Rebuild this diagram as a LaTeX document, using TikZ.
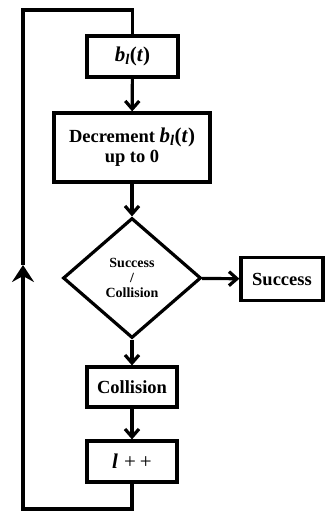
\documentclass[tikz,border=0pt]{standalone}
\usepackage{amsmath,amssymb}
\usepackage{fontspec}
\setmainfont{Liberation Serif}
\usetikzlibrary{arrows.meta,positioning,shapes.geometric}
\newcommand{\blt}{\textit{b}\textsubscript{\textit{l}}(\textit{t})}

\begin{document}
\begin{tikzpicture}[x=1pt,y=-1pt,
    stepbox/.style={draw, line width=3.2pt, inner sep=0pt, align=center,
      font=\fontsize{18.5}{20}\selectfont\bfseries},
    decision/.style={draw, diamond, line width=3.2pt, inner sep=0pt, align=center,
      font=\fontsize{14}{15}\selectfont\bfseries},
    flow/.style={line width=3.2pt, -{Straight Barb[length=8pt,width=14pt,line width=3.2pt]}},
    loopline/.style={line width=3.2pt}]
    \useasboundingbox (0,0) rectangle (324,514);
    % boxes of the chain
    \node[stepbox, minimum width=91pt, minimum height=41pt] (blt) at (132.5,56.5)
      {{\fontsize{21}{21}\selectfont\blt}};
    \node[stepbox, minimum width=156pt, minimum height=69pt] (dec) at (132,147.5)
      {Decrement {\fontsize{21}{21}\selectfont\blt}\\up to 0};
    \node[decision, minimum width=138pt, minimum height=120pt] (sc) at (132,278)
      {Success\\/\\Collision};
    \node[stepbox, minimum width=82pt, minimum height=43pt] (succ) at (282,279)
      {Success};
    \node[stepbox, minimum width=90pt, minimum height=40pt] (coll) at (132,387)
      {Collision};
    \node[stepbox, minimum width=90pt, minimum height=41pt] (linc) at (132,461.5)
      {\fontsize{21}{21}\selectfont\textit{l}\hspace{6pt}{\mdseries+\hspace{4pt}+}};
    % loop corners
    \coordinate (loopbl) at (23,509);
    \coordinate (looptl) at (23,10);
    \coordinate (upmid) at (23,265);
    \draw[flow] (blt) -- (dec);
    \draw[flow] (dec) -- (sc);
    \draw[flow] (sc) -- (succ);
    \draw[flow] (sc) -- (coll);
    \draw[flow] (coll) -- (linc);
    \draw[loopline, -{Stealth[length=17pt,width=22pt,inset=6pt]}]
      (linc.south) |- (loopbl) -- (upmid);
    \draw[loopline] (upmid) -- (looptl) -| (blt.north);
  \end{tikzpicture}
\end{document}
